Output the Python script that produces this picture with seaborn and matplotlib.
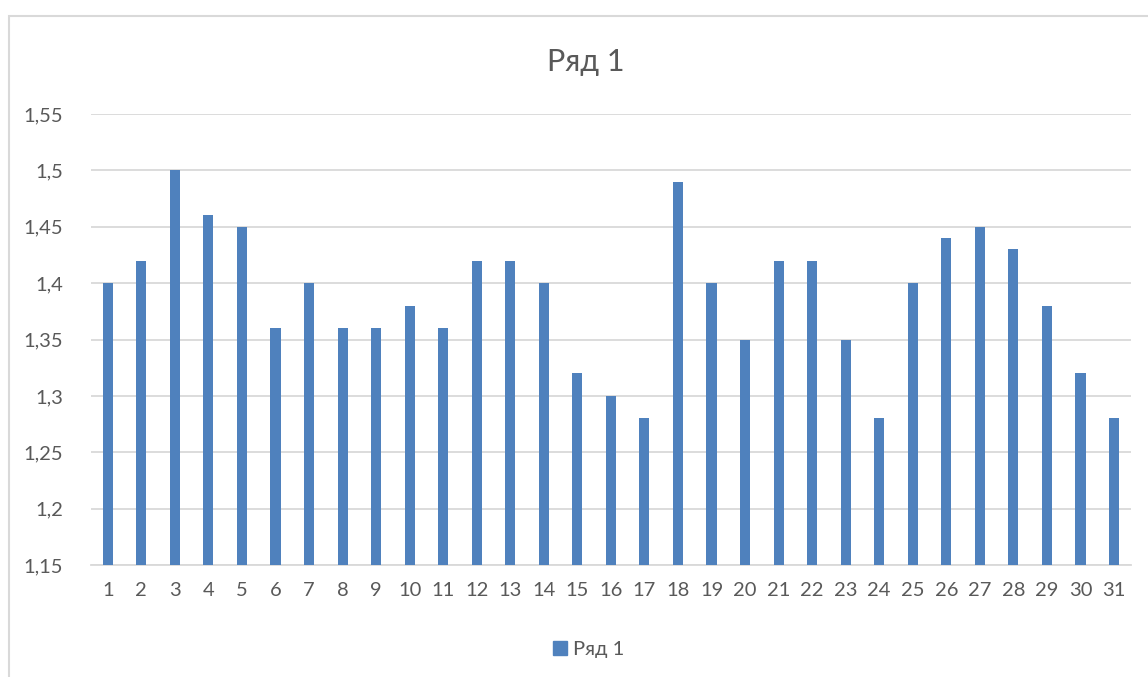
import numpy as np
import pandas as pd
import matplotlib
matplotlib.use("Agg")
import matplotlib.pyplot as plt
import seaborn as sns
from matplotlib.patches import Rectangle, Patch
from matplotlib.ticker import FuncFormatter

# veriler
days = list(range(1, 32))
values = [1.40, 1.42, 1.50, 1.46, 1.45, 1.36, 1.40, 1.36, 1.36, 1.38, 1.36,
          1.42, 1.42, 1.40, 1.32, 1.30, 1.28, 1.49, 1.40, 1.35, 1.42, 1.42,
          1.35, 1.28, 1.40, 1.44, 1.45, 1.43, 1.38, 1.32, 1.28]
series_name = "Ряд 1"

df = pd.DataFrame({"day": days, "value": values})

sns.set_style("white")
plt.rcParams["font.family"] = ["Lato", "DejaVu Sans"]
text_color = "#595959"
bar_color = "#4F81BD"

fig = plt.figure(figsize=(11.48, 6.77), dpi=100)
ax = fig.add_axes([0.0793, 0.1654, 0.9057, 0.6662])

sns.barplot(data=df, x="day", y="value", color=bar_color, width=0.3,
            saturation=1, ax=ax, zorder=3, linewidth=0)

ax.set_ylim(1.15, 1.55)
ax.set_yticks(np.arange(1.15, 1.551, 0.05))
ax.yaxis.set_major_formatter(FuncFormatter(lambda v, p: f"{v:.2f}".rstrip("0").replace(".", ",")))
ax.set_xlim(-0.5, 30.5)
ax.grid(axis="y", color="#D9D9D9", linewidth=1.3, zorder=0)
for s in ["top", "right", "left"]:
    ax.spines[s].set_visible(False)
ax.spines["bottom"].set_color("#D9D9D9")
ax.spines["bottom"].set_linewidth(1.3)
ax.tick_params(axis="both", length=0, labelsize=14.5, colors=text_color)
ax.tick_params(axis="y", pad=20)
ax.tick_params(axis="x", pad=12)
ax.set_xlabel("")
ax.set_ylabel("")

fig.text(0.51, 0.908, series_name, ha="center", va="center", fontsize=22, color=text_color)

fig.legend(handles=[Patch(color=bar_color, label=series_name)], loc="center",
           bbox_to_anchor=(0.513, 0.04), frameon=False, fontsize=14.5,
           handlelength=0.7, handleheight=0.7, handletextpad=0.3, labelcolor=text_color)

# çerçeve
fig.patches.append(Rectangle((9 / 1148, -0.1), 1.2, 1 - 16 / 677 + 0.1, transform=fig.transFigure,
                             fill=False, edgecolor="#D9D9D9", linewidth=1.5))

fig.savefig("out.png", dpi=100)
